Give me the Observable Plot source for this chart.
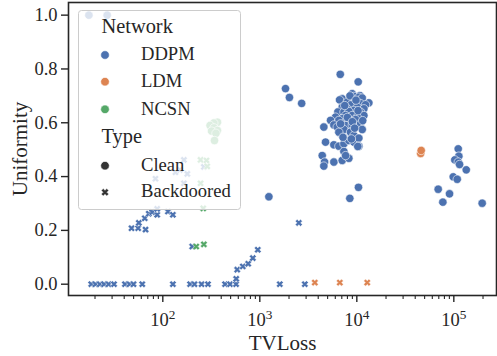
<!DOCTYPE html>
<html><head><meta charset="utf-8">
<script src="https://cdn.jsdelivr.net/npm/d3@7"></script>
<script src="https://cdn.jsdelivr.net/npm/@observablehq/plot@0.6"></script>
<style>
body{margin:0;background:#fff;}
#wrap{position:relative;width:497px;height:356px;overflow:hidden;}
#wrap svg{position:absolute;left:0;top:0;}
</style></head><body><div id="wrap"></div>
<script>
const networks = ["DDPM", "LDM", "NCSN"];
const types = ["Clean", "Backdoored"];
const colors = ["#4C72B0", "#DD8452", "#55A868"];
const xTicks = [1e2, 1e3, 1e4, 1e5];
const yTicks = [0, 0.2, 0.4, 0.6, 0.8, 1.0];
const xLabel = "TVLoss";
const yLabel = "Uniformity";

// [TVLoss, Uniformity]
const ddpmClean = [
  [17.3,1.0],[26.7,1.0],
  [1240,0.325],[1840,0.727],[2020,0.694],[2700,0.672],
  [8970,0.708],[10760,0.701],[7070,0.689],[9330,0.698],[10500,0.695],[11370,0.692],[6640,0.685],[13310,0.674],
  [7960,0.677],[8750,0.667],[10920,0.671],[12300,0.667],[7070,0.658],[10090,0.658],[7960,0.652],[11830,0.652],
  [9330,0.646],[6380,0.640],[7360,0.640],[8280,0.642],[10920,0.640],[7660,0.627],[8970,0.627],[11830,0.627],
  [6040,0.621],[7070,0.615],[10090,0.621],[5360,0.609],[6530,0.609],[8280,0.612],[9700,0.612],[5800,0.592],
  [7660,0.590],[8970,0.592],[10920,0.596],[4570,0.584],[6280,0.584],[7360,0.575],[11370,0.575],[6530,0.565],
  [8610,0.565],[9330,0.553],[4760,0.528],[5800,0.518],[6530,0.513],[7360,0.522],[8280,0.534],[9330,0.528],
  [10500,0.543],[10500,0.513],[7360,0.493],[4400,0.478],[4650,0.454],[5800,0.454],[7070,0.460],[8280,0.468],
  [4570,0.439],[7660,0.478],[10230,0.512],[8500,0.700],[9800,0.684],[7500,0.664],[10300,0.645],[8000,0.620],
  [9000,0.604],[6800,0.596],[9500,0.580],[11500,0.608],[7200,0.546],[8800,0.540],
  [6750,0.780],[10330,0.752],[8470,0.319],[10400,0.360],
  [111000,0.503],[112700,0.476],[102400,0.462],[111000,0.454],[114600,0.445],[134300,0.425],
  [98600,0.399],[108400,0.390],[69000,0.353],[90300,0.336],[77100,0.305],[196000,0.301]
];
const ddpmBackdoored = [
  [18.3,0],[20.2,0],[22.4,0],[24.8,0],[27.6,0],[31.4,0],[40.7,0],[45.4,0],[49.9,0],[61.4,0],
  [127,0],[191,0],[212,0],[251,0],[292,0],[438,0],[493,0],[569,0],[1607,0],[2911,0],
  [47.6,0.208],[55.7,0.208],[66.4,0.203],[56.6,0.228],[65.2,0.245],[71.7,0.262],[77.8,0.268],
  [87.5,0.258],[87.5,0.280],[113,0.270],[127,0.258],
  [165,0.462],[150,0.425],[135,0.416],[179,0.410],[84,0.392],[165,0.375],[265,0.436],
  [571,0.02],[585,0.054],[668,0.066],[759,0.076],[847,0.097],[953,0.128],[2524,0.228],[201,0.14]
];
const ldmClean = [[45500,0.486],[46100,0.497]];
const ldmBackdoored = [[3690,0.006],[6680,0.006],[12800,0.006]];
const ncsnClean = [[366,0.602],[336,0.599],[307,0.590],[337,0.581],[366,0.571],[318,0.569],[353,0.561],[341,0.534]];
const ncsnBackdoored = [[245,0.462],[282,0.460],[287,0.438],[245,0.375],[261,0.282],[221,0.140],[265,0.148]];

const rows = (arr, network, type) => arr.map(([tv, u]) => ({tv, u, network, type}));
const data = [
  ...rows(ddpmClean, "DDPM", "Clean"), ...rows(ddpmBackdoored, "DDPM", "Backdoored"),
  ...rows(ldmClean, "LDM", "Clean"), ...rows(ldmBackdoored, "LDM", "Backdoored"),
  ...rows(ncsnClean, "NCSN", "Clean"), ...rows(ncsnBackdoored, "NCSN", "Backdoored")
];

// matplotlib-like filled "X" marker
const symbolX = {
  draw(ctx, size) {
    const r = Math.sqrt(size / Math.PI);
    const a = r * 0.36, L = r;
    const pts = [[-a,L],[a,L],[a,a],[L,a],[L,-a],[a,-a],[a,-L],[-a,-L],[-a,-a],[-L,-a],[-L,a],[-a,a]];
    const c = Math.SQRT1_2;
    pts.forEach(([x, y], i) => { const X = (x - y) * c, Y = (x + y) * c; i ? ctx.lineTo(X, Y) : ctx.moveTo(X, Y); });
    ctx.closePath();
  }
};

const minorTicks = [];
for (let k = 1; k <= 5; k++) for (let m = 2; m <= 9; m++) minorTicks.push(m * 10 ** k);

const FONT = "'Liberation Serif', 'Times New Roman', serif";
const INK = "#262626";

const plot = Plot.plot({
  width: 497, height: 356,
  marginLeft: 68, marginRight: 1, marginTop: 2, marginBottom: 61,
  style: {fontFamily: FONT, color: INK, background: "white", overflow: "visible"},
  x: {type: "log", domain: [10.66, 275400]},
  y: {domain: [-0.042, 1.047]},
  color: {domain: networks, range: colors},
  marks: [
    Plot.axisY({ticks: yTicks, tickFormat: d3.format(".1f"), tickSize: 7, tickPadding: 4, fontSize: 18.5, strokeWidth: 1.4, label: null}),
    Plot.axisY({ticks: [], label: yLabel, labelAnchor: "center", labelArrow: false, labelOffset: 56, fontSize: 21}),
    Plot.axisX({ticks: minorTicks.filter(d => d >= 10.66 && d <= 275400), tickFormat: () => "", tickSize: 4, strokeWidth: 1.1, label: null}),
    Plot.axisX({ticks: xTicks, tickFormat: d => `10^${Math.round(Math.log10(d))}`, tickSize: 7, tickPadding: 10, fontSize: 18.5, strokeWidth: 1.4, label: null}),
    Plot.axisX({ticks: [], label: xLabel, labelAnchor: "center", labelArrow: false, labelOffset: 54, fontSize: 21}),
    Plot.dot(data.filter(d => d.type === "Clean"), {x: "tv", y: "u", fill: "network", r: 4.2, stroke: "white", strokeWidth: 0.6, symbol: "circle"}),
    Plot.dot(data.filter(d => d.type === "Backdoored"), {x: "tv", y: "u", fill: "network", r: 3.7, stroke: "white", strokeWidth: 0.5, symbol: symbolX}),
    Plot.frame({stroke: INK, strokeWidth: 1.6})
  ]
});

// superscript exponents on x tick labels
d3.select(plot).selectAll('g[aria-label="x-axis tick label"] text').each(function () {
  const t = this.textContent;
  if (!t.includes("^")) return;
  const [b, e] = t.split("^");
  this.textContent = "";
  d3.select(this).append("tspan").text(b);
  d3.select(this).append("tspan").attr("dy", "-0.5em").attr("font-size", "0.72em").text(e);
});

const wrap = document.getElementById("wrap");
wrap.appendChild(plot);

// legend overlay (inside axes, semi-transparent like matplotlib)
const leg = d3.select(wrap).append("svg").attr("width", 497).attr("height", 356)
  .style("font-family", FONT).style("pointer-events", "none");
leg.append("rect").attr("x", 78.5).attr("y", 10.5).attr("width", 162).attr("height", 199).attr("rx", 3)
  .attr("fill", "white").attr("fill-opacity", 0.8).attr("stroke", "#cccccc").attr("stroke-width", 1);
const legendRows = [
  {kind: "title", text: "Network", y: 32.7},
  {kind: "net", text: networks[0], color: colors[0], y: 60, my: 55},
  {kind: "net", text: networks[1], color: colors[1], y: 87.3, my: 81.7},
  {kind: "net", text: networks[2], color: colors[2], y: 115, my: 109.3},
  {kind: "title", text: "Type", y: 142.7},
  {kind: "clean", text: types[0], color: "#333333", y: 170.5, my: 165.7},
  {kind: "back", text: types[1], color: "#333333", y: 197.3, my: 192.3}
];
for (const r of legendRows) {
  if (r.kind === "title") {
    leg.append("text").attr("x", 101.5).attr("y", r.y).attr("font-size", 20.4).attr("fill", INK).text(r.text);
  } else {
    leg.append("text").attr("x", 141).attr("y", r.y).attr("font-size", 18.6).attr("fill", INK).text(r.text);
    if (r.kind === "back") {
      const p = d3.path(); symbolX.draw(p, 3.9 * 3.9 * Math.PI);
      leg.append("path").attr("d", p.toString()).attr("transform", `translate(105,${r.my})`).attr("fill", r.color).attr("stroke", "white").attr("stroke-width", 0.5);
    } else {
      leg.append("circle").attr("cx", 105).attr("cy", r.my).attr("r", 4.3).attr("fill", r.color).attr("stroke", "white").attr("stroke-width", 0.6);
    }
  }
}
</script></body></html>
